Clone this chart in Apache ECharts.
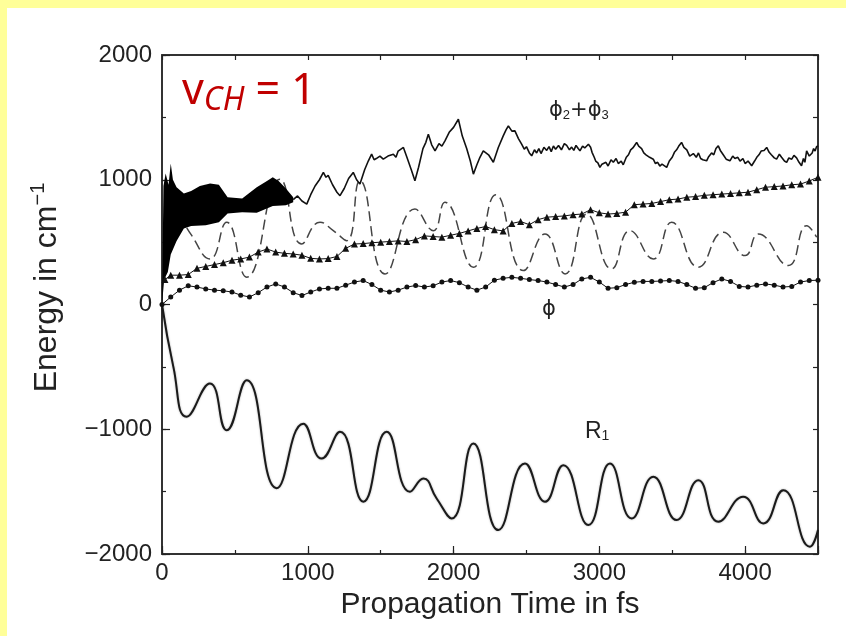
<!DOCTYPE html>
<html>
<head>
<meta charset="utf-8">
<script src="https://cdn.jsdelivr.net/npm/echarts@6/dist/echarts.min.js"></script>
<style>
  html, body { margin: 0; padding: 0; }
  #chart { width: 846px; height: 636px; }
</style>
</head>
<body>
<div id="chart"></div>
<script>
// [time in fs, energy in cm-1]
const r1Data = [
  [0, 0], [78, -500], [169, -900], [329, -633], [444, -1008], [581, -608],
  [787, -1472], [969, -955], [1095, -1235], [1221, -1021], [1381, -1581],
  [1541, -1021], [1701, -1501], [1793, -1395], [1884, -1555], [1987, -1715],
  [2136, -1115], [2307, -1808], [2490, -1275], [2627, -1581], [2753, -1288],
  [2925, -1768], [3073, -1275], [3222, -1715], [3370, -1381], [3530, -1728],
  [3679, -1408], [3816, -1741], [3987, -1541], [4125, -1755], [4262, -1488],
  [4445, -1941], [4500, -1808]
]

const phi23BandTop = [
  [0, 0], [10, 950], [25, 1050], [45, 960], [60, 1130], [75, 1000], [100, 940],
  [150, 890], [200, 910], [260, 950], [330, 970], [390, 960], [450, 860],
  [550, 850], [650, 940], [720, 990], [760, 1020], [800, 990], [850, 930], [900, 860]
]
const phi23BandBottom = [
  [0, 0], [15, 200], [40, 260], [60, 400], [100, 510], [150, 610], [200, 630],
  [300, 635], [390, 660], [450, 730], [550, 740], [650, 735], [760, 790],
  [850, 795], [900, 820]
]
const phi23Line = [
  [900, 840], [930, 870], [960, 830], [993, 805], [1020, 880], [1050, 950], [1080, 1000],
  [1107, 1059], [1125, 1020], [1140, 1035], [1170, 960], [1200, 900], [1221, 872], [1250, 930],
  [1280, 1010], [1312, 1059], [1335, 1000], [1358, 965], [1390, 1080], [1415, 1150],
  [1438, 1205], [1455, 1160], [1470, 1170], [1495, 1190], [1518, 1165], [1550, 1190], [1587, 1205],
  [1605, 1180], [1620, 1230], [1656, 1259], [1680, 1180], [1710, 1080], [1735, 992], [1760, 1100],
  [1790, 1250], [1810, 1300], [1827, 1365], [1850, 1280], [1873, 1232], [1900, 1290],
  [1920, 1270], [1941, 1312], [1970, 1380], [2000, 1420], [2033, 1485], [2060, 1350],
  [2090, 1250], [2115, 1150], [2136, 1045], [2160, 1120], [2181, 1180], [2204, 1232],
  [2240, 1200], [2273, 1140], [2307, 1259], [2340, 1350], [2360, 1400], [2376, 1432], [2400, 1390],
  [2421, 1392], [2445, 1330], [2467, 1285], [2485, 1245], [2500, 1265], [2520, 1215], [2536, 1192],
  [2555, 1240], [2570, 1215], [2585, 1250], [2600, 1210], [2620, 1260], [2639, 1235], [2655, 1265],
  [2670, 1225], [2685, 1270], [2700, 1245], [2720, 1275], [2740, 1240], [2760, 1290], [2776, 1275],
  [2795, 1240], [2810, 1262], [2825, 1235], [2840, 1275], [2855, 1250], [2867, 1232], [2885, 1270],
  [2900, 1255], [2925, 1285], [2940, 1260], [2950, 1220], [2965, 1180], [2975, 1150], [2990, 1135],
  [3004, 1099], [3018, 1125], [3030, 1110], [3045, 1140], [3060, 1110], [3080, 1160], [3096, 1140],
  [3115, 1170], [3130, 1130], [3150, 1150], [3164, 1120], [3185, 1180], [3200, 1200], [3215, 1240],
  [3230, 1255], [3256, 1299], [3270, 1270], [3290, 1250], [3305, 1215], [3320, 1200], [3345, 1180],
  [3370, 1165], [3385, 1130], [3400, 1140], [3415, 1110], [3430, 1125], [3462, 1099], [3480, 1150],
  [3500, 1180], [3515, 1220], [3530, 1240], [3545, 1270], [3564, 1299], [3580, 1260], [3600, 1240],
  [3620, 1190], [3645, 1210], [3665, 1180], [3680, 1215], [3695, 1170], [3710, 1160], [3736, 1152],
  [3750, 1185], [3770, 1215], [3785, 1200], [3800, 1250], [3816, 1272], [3830, 1235], [3850, 1200],
  [3870, 1165], [3896, 1152], [3915, 1190], [3930, 1170], [3950, 1180], [3965, 1150], [3985, 1170],
  [4000, 1130], [4020, 1150], [4045, 1112], [4065, 1150], [4080, 1180], [4095, 1200], [4110, 1230],
  [4130, 1235], [4148, 1259], [4165, 1220], [4180, 1200], [4200, 1175], [4216, 1165], [4235, 1205],
  [4250, 1180], [4270, 1150], [4285, 1139], [4300, 1175], [4320, 1165], [4335, 1195], [4353, 1175],
  [4370, 1140], [4387, 1112], [4400, 1170], [4410, 1140], [4422, 1232], [4440, 1190], [4460, 1215],
  [4470, 1250], [4480, 1230], [4490, 1265], [4500, 1272]
]

const dashData = [
  [120, 720], [200, 560], [329, 365], [444, 659], [581, 219], [809, 1005],
  [958, 485], [1084, 659], [1175, 592], [1267, 512], [1358, 992], [1530, 245],
  [1735, 765], [1861, 592], [1941, 819], [2136, 299], [2290, 880], [2479, 272],
  [2627, 565], [2765, 245], [2913, 725], [3084, 285], [3210, 592], [3370, 365],
  [3496, 659], [3679, 299], [3850, 579], [4000, 392], [4091, 565], [4296, 312],
  [4422, 632], [4491, 539]
]

const triData = [
  [20, 200], [60, 235], [120, 235], [180, 240], [240, 290], [300, 305], [360, 320],
  [420, 335], [480, 355], [540, 365], [600, 380], [660, 420], [720, 445], [780, 420],
  [840, 410], [900, 405], [960, 395], [1020, 370], [1080, 365], [1140, 368], [1200, 385],
  [1260, 450], [1320, 485], [1380, 488], [1440, 495], [1500, 500], [1560, 505],
  [1620, 510], [1680, 505], [1740, 520], [1800, 550], [1860, 545], [1920, 540],
  [1980, 555], [2040, 570], [2100, 590], [2160, 610], [2220, 625], [2280, 600],
  [2340, 590], [2400, 650], [2460, 665], [2520, 640], [2580, 680], [2640, 700],
  [2700, 705], [2760, 710], [2820, 720], [2880, 725], [2940, 760], [3000, 735],
  [3060, 725], [3120, 730], [3180, 740], [3240, 800], [3300, 805], [3360, 810],
  [3420, 825], [3480, 840], [3540, 845], [3600, 860], [3660, 865], [3720, 875],
  [3780, 880], [3840, 885], [3900, 890], [3960, 895], [4020, 900], [4080, 920],
  [4140, 940], [4200, 945], [4260, 950], [4320, 960], [4380, 965], [4440, 990], [4500, 1020]
]

const dotData = [
  [0, 0], [60, 60], [120, 115], [180, 150], [240, 140], [300, 125], [360, 115],
  [420, 110], [480, 100], [540, 75], [600, 60], [660, 95], [720, 140], [780, 165],
  [840, 140], [900, 95], [960, 72], [1020, 100], [1080, 125], [1140, 130], [1200, 130],
  [1260, 155], [1320, 180], [1380, 192], [1440, 160], [1500, 115], [1560, 100],
  [1620, 115], [1680, 140], [1740, 152], [1800, 140], [1860, 150], [1920, 180],
  [1980, 192], [2040, 175], [2100, 140], [2160, 115], [2220, 140], [2280, 195],
  [2340, 210], [2400, 218], [2460, 210], [2520, 200], [2580, 192], [2640, 180],
  [2700, 160], [2760, 140], [2820, 160], [2880, 205], [2940, 218], [3000, 180],
  [3060, 130], [3120, 135], [3180, 160], [3240, 178], [3300, 185], [3360, 185],
  [3420, 188], [3480, 192], [3540, 185], [3600, 160], [3660, 130], [3720, 135],
  [3780, 175], [3840, 205], [3900, 185], [3960, 145], [4020, 140], [4080, 155],
  [4140, 165], [4200, 155], [4260, 140], [4320, 145], [4380, 180], [4440, 192], [4500, 195]
]

const xLabels = [0, 1000, 2000, 3000, 4000]
const yLabels = [-2000, -1000, 0, 1000, 2000]

const font = "'Liberation Sans', Arial, sans-serif"
const ink = '#222'
const frame = { show: true, onZero: false, lineStyle: { color: '#333', width: 2 } }

const chart = echarts.init(document.getElementById('chart'))

const plainAxis = (extra) => Object.assign({
  type: 'value',
  axisLine: { show: false, onZero: false },
  axisLabel: { show: false },
  splitLine: { show: false },
  axisTick: { inside: true, length: 5, lineStyle: { color: ink, width: 1.2 } }
}, extra)

chart.setOption({
  backgroundColor: '#ffff99',
  animation: false,
  graphic: [
    { type: 'rect', z: -100, silent: true, shape: { x: 7, y: 8, width: 839, height: 628 }, style: { fill: '#fff' } },
    {
      type: 'text', left: 182, top: 70,
      style: {
        text: '{v|v}{c|CH}{v| = 1}',
        rich: {
          v: { fontSize: 43, fill: '#c00000', fontFamily: "'Noto Sans', sans-serif" },
          c: { fontSize: 32, fill: '#c00000', fontStyle: 'italic', fontFamily: "'Noto Sans', sans-serif", padding: [18, 0, 0, 0] }
        }
      }
    },
    {
      type: 'text', left: 549, top: 100,
      style: {
        text: '{a|ϕ}{s|2}{a|+ϕ}{s|3}',
        rich: {
          a: { fontSize: 21, fill: ink, fontFamily: "'DejaVu Sans', sans-serif" },
          s: { fontSize: 13, fill: ink, fontFamily: font, padding: [10, 0, 0, 0] }
        }
      }
    },
    { type: 'text', left: 542, top: 299, style: { text: 'ϕ', fontSize: 21, fill: ink, fontFamily: "'DejaVu Sans', sans-serif" } },
    {
      type: 'text', left: 585, top: 420,
      style: {
        text: '{a|R}{s|1}',
        rich: {
          a: { fontSize: 23, fill: ink, fontFamily: font },
          s: { fontSize: 14, fill: ink, fontFamily: font, padding: [10, 0, 0, 0] }
        }
      }
    }
  ],
  grid: { left: 162, right: 28, top: 55, bottom: 82 },
  xAxis: [
    {
      type: 'value', min: 0, max: 4500, interval: 500, position: 'bottom',
      name: 'Propagation Time in fs', nameLocation: 'middle', nameGap: 32,
      nameTextStyle: { fontSize: 30, color: ink, fontFamily: font },
      axisLine: frame,
      axisTick: { inside: true, length: 4, lineStyle: { color: ink, width: 1.2 } },
      axisLabel: {
        margin: 7, fontSize: 24, color: ink, fontFamily: font,
        formatter: (v) => xLabels.indexOf(v) >= 0 ? String(v) : ''
      },
      splitLine: { show: false }
    },
    plainAxis({ min: 0, max: 4500, interval: 1000, position: 'bottom',
      axisTick: { inside: true, length: 8, lineStyle: { color: ink, width: 1.2 } } }),
    plainAxis({ min: 0, max: 4500, interval: 500, position: 'top', axisLine: frame })
  ],
  yAxis: [
    {
      type: 'value', min: -2000, max: 2000, interval: 500, position: 'left',
      name: 'Energy in cm{sup|−1}', nameLocation: 'middle', nameGap: 96,
      nameTextStyle: {
        fontSize: 32, color: ink, fontFamily: font, padding: [0, 0, 0, 34],
        rich: { sup: { fontSize: 20, color: ink, fontFamily: font, padding: [0, 0, 18, 0] } }
      },
      axisLine: frame,
      axisTick: { inside: true, length: 4, lineStyle: { color: ink, width: 1.2 } },
      axisLabel: {
        margin: 10, fontSize: 24, color: ink, fontFamily: font,
        formatter: (v) => yLabels.indexOf(v) >= 0 ? String(v).replace('-', '−') : ''
      },
      splitLine: { show: false }
    },
    plainAxis({ min: -2000, max: 2000, interval: 1000, position: 'left',
      axisTick: { inside: true, length: 8, lineStyle: { color: ink, width: 1.2 } } }),
    plainAxis({ min: -2000, max: 2000, interval: 500, position: 'right', axisLine: frame })
  ],
  series: [
    {
      type: 'custom',
      name: 'phi2+phi3 band',
      data: [[0, 0]],
      renderItem: (params, api) => {
        const pts = phi23BandTop.map(p => api.coord(p))
          .concat(phi23BandBottom.slice().reverse().map(p => api.coord(p)))
        return { type: 'polygon', shape: { points: pts }, style: { fill: '#000' } }
      },
      z: 3
    },
    {
      type: 'line', name: 'phi2+phi3', data: phi23Line, symbol: 'none',
      lineStyle: { color: '#111', width: 1.6 }, z: 3
    },
    {
      type: 'line', name: 'dashed', data: dashData, symbol: 'none', smooth: 0.5,
      lineStyle: { color: '#444', width: 1.5, type: [10, 5] }, z: 2
    },
    {
      type: 'line', name: 'triangles', data: triData, symbol: 'triangle', symbolSize: 7,
      itemStyle: { color: '#111' }, lineStyle: { color: '#111', width: 1 }, z: 4
    },
    {
      type: 'line', name: 'phi', data: dotData, symbol: 'circle', symbolSize: 5,
      itemStyle: { color: '#111' }, lineStyle: { color: '#111', width: 1 }, z: 4
    },
    {
      type: 'line', name: 'R1', data: r1Data, symbol: 'none', smooth: 0.5,
      lineStyle: { color: '#1a1a1a', width: 2, shadowColor: 'rgba(0,0,0,0.35)', shadowBlur: 2 }, z: 3
    }
  ]
})
</script>
</body>
</html>
